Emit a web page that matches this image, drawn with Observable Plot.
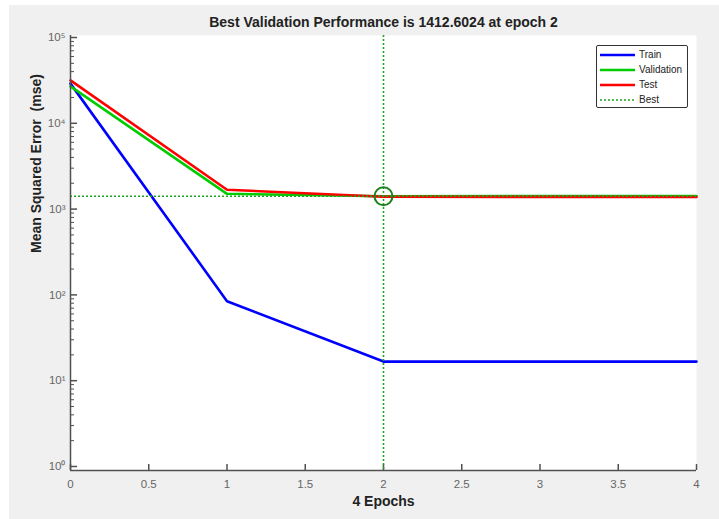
<!DOCTYPE html>
<html><head><meta charset="utf-8">
<script src="https://cdn.jsdelivr.net/npm/d3@7"></script>
<script src="https://cdn.jsdelivr.net/npm/@observablehq/plot@0.6"></script>
<style>
body{margin:0;background:#fff;font-family:"Liberation Sans",Arial,sans-serif;}
#wrap{position:relative;width:719px;height:519px;background:#fff;overflow:hidden}
#bg{position:absolute;left:9px;top:5px;width:710px;height:514px;background:#f0f0f0}
#chart{position:absolute;left:0;top:0}
#legend{position:absolute;left:596px;top:45px;width:90px;height:61px;border:1px solid #333;border-radius:2px;background:#fff;font-size:10px;color:#222}
.row{position:absolute;left:3px;height:15px;display:flex;align-items:center}
.row svg{margin-right:4px}
</style></head>
<body>
<div id="wrap"><div id="bg"></div><div id="chart"></div>
<div id="legend"></div></div>
<script>
const epochs = [0, 1, 2, 3, 4];
const train = [29000, 84.5, 16.7, 16.7, 16.7];
const validation = [26900, 1507, 1412.6024, 1416, 1418];
const test = [31600, 1680, 1392, 1388, 1386];
const bestEpoch = 2;
const bestValue = 1412.6024;
const seriesNames = ["Train", "Validation", "Test", "Best"];
const seriesColors = ["#0000ff", "#00cc00", "#ff0000", "#1ea51e"];
const xTicks = [0, 0.5, 1, 1.5, 2, 2.5, 3, 3.5, 4];
const xTickLabels = ["0", "0.5", "1", "1.5", "2", "2.5", "3", "3.5", "4"];
const yMajor = [1, 10, 100, 1000, 10000, 100000];
const yTickLabels = ["10\u2070", "10\u00b9", "10\u00b2", "10\u00b3", "10\u2074", "10\u2075"];
const yDomain = [0.898, 105500];
const titleText = "Best Validation Performance is 1412.6024 at epoch 2";
const xLabel = "4 Epochs";
const yLabel = "Mean Squared Error \u00a0(mse)";

const yMinor = [];
for (let p = 0; p < 5; p++) for (let m = 2; m <= 9; m++) yMinor.push(m * Math.pow(10, p));

const seriesVals = [train, validation, test];
const rows = [];
seriesVals.forEach((vals, i) => vals.forEach((v, j) => rows.push({series: seriesNames[i], epoch: epochs[j], value: v})));

const axisColor = "#505050";
const chart = Plot.plot({
  width: 719, height: 519,
  marginLeft: 70, marginRight: 23, marginTop: 35, marginBottom: 49,
  style: {background: "transparent", fontFamily: "'Liberation Sans', Arial, sans-serif"},
  x: {domain: [0, 4]},
  y: {type: "log", domain: yDomain},
  color: {domain: seriesNames, range: seriesColors},
  marks: [
    Plot.frame({fill: "white", stroke: null}),
    Plot.axisX({ticks: xTicks, tickSize: -6, stroke: axisColor, strokeWidth: 1.5, tickFormat: () => "", label: null}),
    Plot.axisX({ticks: xTicks, tickSize: 0, tickPadding: 9, fontSize: 11.5, fill: "#666", tickFormat: d => xTickLabels[xTicks.indexOf(d)], label: null}),
    Plot.axisY({ticks: yMinor, tickSize: -4, stroke: axisColor, tickFormat: () => "", label: null}),
    Plot.axisY({ticks: yMajor, tickSize: -7, stroke: axisColor, strokeWidth: 1.5, tickFormat: () => "", label: null}),
    Plot.axisY({ticks: yMajor, tickSize: 0, tickPadding: 5, fontSize: 11.5, fill: "#666", tickFormat: d => yTickLabels[yMajor.indexOf(d)], label: null}),
    Plot.line(rows, {x: "epoch", y: "value", z: "series", stroke: "series", strokeWidth: 2.6}),
    Plot.ruleY([bestValue], {stroke: seriesColors[3], strokeWidth: 1.5, strokeDasharray: "2,2"}),
    Plot.ruleX([bestEpoch], {stroke: seriesColors[3], strokeWidth: 1.6, strokeDasharray: "2,2"}),
    Plot.dot([{x: bestEpoch, y: bestValue}], {x: "x", y: "y", r: 9, stroke: "#1a801a", strokeWidth: 2, fill: "none"}),
    Plot.ruleX([0], {stroke: axisColor, strokeWidth: 1.5}),
    Plot.ruleY([yDomain[0]], {stroke: axisColor, strokeWidth: 1.5}),
    Plot.text([titleText], {frameAnchor: "top", dy: -18, fontSize: 14, fontWeight: "bold", fill: "#222"}),
    Plot.text([xLabel], {frameAnchor: "bottom", dy: 35, fontSize: 14, fontWeight: "bold", fill: "#222"}),
    Plot.text([yLabel], {frameAnchor: "left", dx: -34, rotate: -90, fontSize: 14, fontWeight: "bold", fill: "#222"})
  ]
});
document.getElementById("chart").appendChild(chart);

const legend = document.getElementById("legend");
seriesNames.forEach((name, i) => {
  const row = document.createElement("div");
  row.className = "row";
  row.style.top = (1 + i * 15) + "px";
  const dotted = name === "Best";
  row.innerHTML = `<svg width="35" height="4"><line x1="0" y1="2" x2="35" y2="2" stroke="${seriesColors[i]}" stroke-width="${dotted ? 1.5 : 2.6}" ${dotted ? 'stroke-dasharray="2,2"' : ''}/></svg><span>${name}</span>`;
  legend.appendChild(row);
});
</script>
</body></html>
